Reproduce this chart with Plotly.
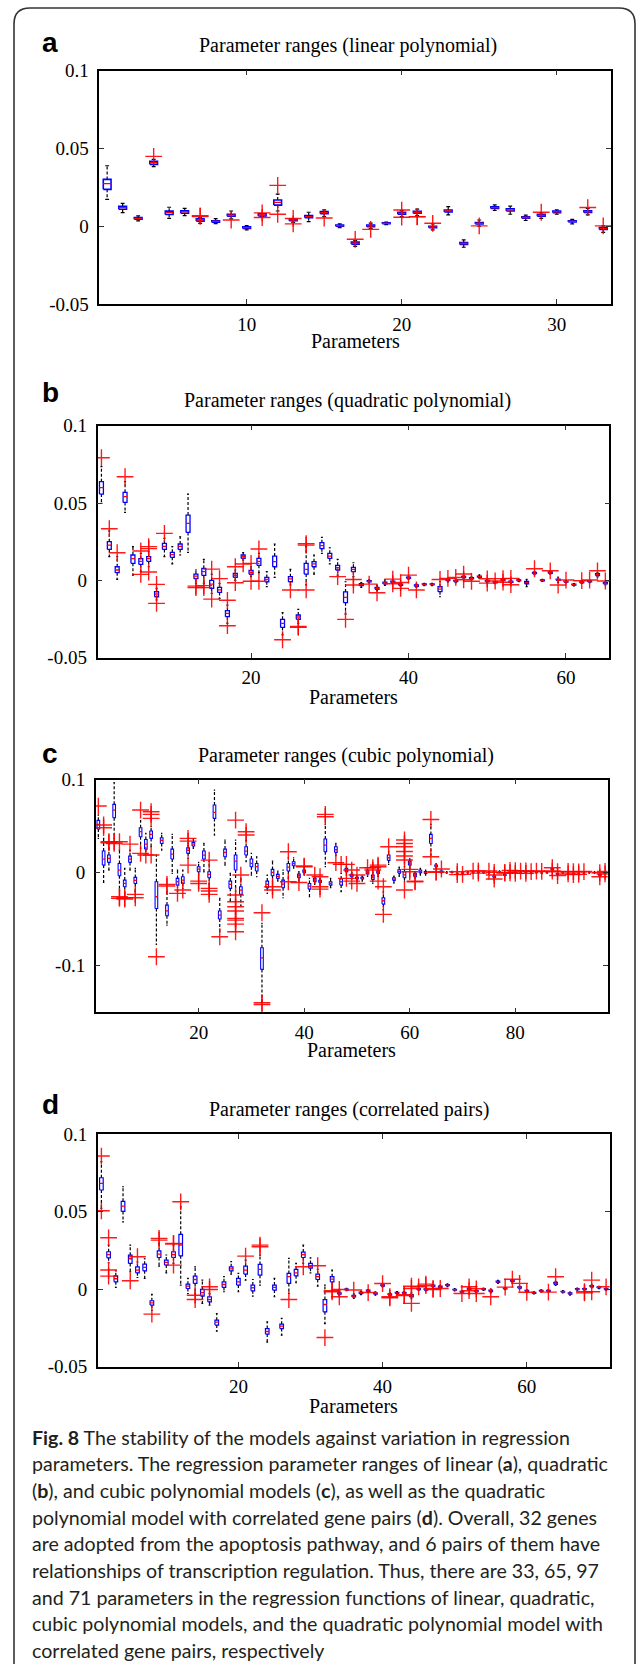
import plotly.graph_objects as go

W, H = 636, 1664

# ---------------- data: panel a (linear, 33 parameters) ----------------
a_med = [0.0274, 0.0119, 0.0051, 0.0409, 0.0088, 0.0092, 0.0040, 0.0031, 0.0071, -0.0009,
         0.0073, 0.0154, 0.0041, 0.0062, 0.0088, 0.0004, -0.0109, 0.0002, 0.0019, 0.0083,
         0.0090, -0.0005, 0.0098, -0.0111, 0.0019, 0.0120, 0.0105, 0.0056, 0.0070, 0.0092,
         0.0031, 0.0094, -0.0015]
a_q1 = [0.0237, 0.0109, 0.0045, 0.0398, 0.0075, 0.0083, 0.0033, 0.0026, 0.0064, -0.0014,
        0.0066, 0.0136, 0.0036, 0.0055, 0.0080, 0.0000, -0.0115, -0.0003, 0.0016, 0.0077,
        0.0083, -0.0010, 0.0092, -0.0117, 0.0014, 0.0114, 0.0098, 0.0051, 0.0064, 0.0087,
        0.0027, 0.0088, -0.0021]
a_q3 = [0.0301, 0.0128, 0.0056, 0.0418, 0.0097, 0.0099, 0.0047, 0.0035, 0.0077, -0.0004,
        0.0080, 0.0169, 0.0045, 0.0068, 0.0094, 0.0008, -0.0102, 0.0007, 0.0022, 0.0089,
        0.0096, 0.0000, 0.0104, -0.0105, 0.0024, 0.0125, 0.0112, 0.0061, 0.0077, 0.0097,
        0.0035, 0.0100, -0.0009]
a_lo = [0.0173, 0.0087, 0.0035, 0.0383, 0.0051, 0.0068, 0.0018, 0.0017, 0.0047, -0.0024,
        0.0062, 0.0098, 0.0025, 0.0030, 0.0062, -0.0009, -0.0130, -0.0015, 0.0010, 0.0062,
        0.0068, -0.0024, 0.0073, -0.0135, 0.0000, 0.0101, 0.0077, 0.0037, 0.0051, 0.0077,
        0.0015, 0.0073, -0.0039]
a_hi = [0.0389, 0.0147, 0.0066, 0.0430, 0.0122, 0.0115, 0.0055, 0.0049, 0.0098, 0.0004,
        0.0081, 0.0207, 0.0048, 0.0090, 0.0105, 0.0015, -0.0092, 0.0020, 0.0027, 0.0100,
        0.0110, 0.0015, 0.0126, -0.0088, 0.0040, 0.0137, 0.0129, 0.0071, 0.0088, 0.0105,
        0.0044, 0.0115, 0.0002]
a_out = {4: [0.0449], 7: [0.0063, 0.0067], 9: [0.0040], 11: [0.0086, 0.0056], 12: [0.0263, 0.0077],
         13: [0.0050, 0.0015], 15: [0.0053], 17: [-0.0084], 18: [-0.0020], 20: [0.0104, 0.0058],
         21: [0.0062, 0.0060], 22: [0.0019], 25: [0.0002], 29: [0.0090], 32: [0.0120], 33: [0.0002]}

# ---------------- data: panel b (quadratic, 65 parameters) ----------------
b_med = [0.0599, 0.0228, 0.0067, 0.0541, 0.0140, 0.0123, 0.0140, -0.0088, 0.0220, 0.0166,
         0.0220, 0.0369, 0.0028, 0.0056, -0.0024, -0.0062, -0.0213, 0.0032, 0.0153, 0.0052,
         0.0123, 0.0006, 0.0121, -0.0278, 0.0009, -0.0237, 0.0071, 0.0106, 0.0224, 0.0157,
         0.0082, -0.0110, 0.0071, -0.0028, -0.0006, -0.0052, -0.0017, -0.0009, -0.0028, 0.0017,
         -0.0034, -0.0026, -0.0026, -0.0056, 0.0002, -0.0004, 0.0022, 0.0013, 0.0024, -0.0004,
         -0.0013, 0.0002, -0.0009, 0.0000, -0.0015, 0.0047, 0.0000, 0.0050, 0.0004, -0.0009,
         -0.0028, -0.0013, -0.0006, 0.0037, -0.0019]
b_q1 = [0.0558, 0.0200, 0.0050, 0.0504, 0.0110, 0.0103, 0.0123, -0.0106, 0.0200, 0.0149,
        0.0200, 0.0310, 0.0011, 0.0032, -0.0052, -0.0078, -0.0235, 0.0019, 0.0142, 0.0039,
        0.0097, -0.0009, 0.0088, -0.0304, -0.0009, -0.0252, 0.0041, 0.0088, 0.0205, 0.0142,
        0.0067, -0.0144, 0.0056, -0.0034, -0.0010, -0.0058, -0.0023, -0.0013, -0.0032, 0.0013,
        -0.0038, -0.0029, -0.0029, -0.0073, -0.0002, -0.0008, 0.0018, 0.0009, 0.0020, -0.0008,
        -0.0016, -0.0002, -0.0013, -0.0003, -0.0022, 0.0043, -0.0003, 0.0046, 0.0000, -0.0012,
        -0.0031, -0.0016, -0.0009, 0.0031, -0.0023]
b_q3 = [0.0638, 0.0250, 0.0088, 0.0569, 0.0164, 0.0140, 0.0153, -0.0073, 0.0239, 0.0181,
        0.0235, 0.0422, 0.0041, 0.0078, 0.0000, -0.0045, -0.0196, 0.0045, 0.0164, 0.0065,
        0.0142, 0.0019, 0.0157, -0.0252, 0.0024, -0.0224, 0.0110, 0.0121, 0.0244, 0.0175,
        0.0097, -0.0075, 0.0084, -0.0022, -0.0002, -0.0046, -0.0011, -0.0005, -0.0024, 0.0021,
        -0.0030, -0.0023, -0.0023, -0.0041, 0.0006, 0.0000, 0.0026, 0.0017, 0.0028, 0.0000,
        -0.0010, 0.0006, -0.0005, 0.0003, -0.0006, 0.0051, 0.0003, 0.0054, 0.0008, -0.0006,
        -0.0025, -0.0010, -0.0003, 0.0043, -0.0015]
b_lo = [0.0498, 0.0153, 0.0006, 0.0440, 0.0034, 0.0056, 0.0088, -0.0127, 0.0153, 0.0106,
        0.0164, 0.0181, -0.0019, -0.0019, -0.0084, -0.0116, -0.0278, 0.0000, 0.0131, 0.0024,
        0.0050, -0.0041, 0.0019, -0.0353, -0.0030, -0.0278, -0.0030, 0.0041, 0.0175, 0.0106,
        0.0034, -0.0218, 0.0024, -0.0045, -0.0016, -0.0068, -0.0032, -0.0019, -0.0038, 0.0007,
        -0.0045, -0.0034, -0.0034, -0.0106, -0.0010, -0.0014, 0.0010, 0.0003, 0.0014, -0.0014,
        -0.0022, -0.0008, -0.0019, -0.0008, -0.0040, 0.0037, -0.0007, 0.0040, -0.0014, -0.0016,
        -0.0035, -0.0020, -0.0014, 0.0022, -0.0030]
b_hi = [0.0735, 0.0320, 0.0153, 0.0638, 0.0218, 0.0175, 0.0185, -0.0052, 0.0272, 0.0218,
        0.0282, 0.0558, 0.0067, 0.0136, 0.0041, -0.0019, -0.0160, 0.0067, 0.0179, 0.0088,
        0.0175, 0.0056, 0.0235, -0.0209, 0.0071, -0.0187, 0.0220, 0.0164, 0.0278, 0.0211,
        0.0136, -0.0009, 0.0114, -0.0015, 0.0004, -0.0032, 0.0004, 0.0002, -0.0018, 0.0027,
        -0.0024, -0.0019, -0.0019, -0.0009, 0.0010, 0.0008, 0.0032, 0.0023, 0.0036, 0.0006,
        -0.0006, 0.0008, 0.0001, 0.0008, 0.0006, 0.0057, 0.0006, 0.0058, 0.0020, -0.0002,
        -0.0021, -0.0006, 0.0000, 0.0050, -0.0010]
b_out = {1: [0.0793], 2: [0.0334], 3: [0.0179], 4: [0.0670], 6: [0.0190, 0.0039],
         7: [0.0218, 0.0205, 0.0054], 8: [-0.0026, -0.0149], 9: [0.0304], 13: [-0.0037, -0.0047],
         14: [-0.0034, -0.0047], 15: [0.0073, -0.0121], 16: [0.0011], 17: [-0.0129, -0.0293],
         18: [0.0088, -0.0015], 19: [0.0106], 20: [0.0110, -0.0006], 21: [0.0203, -0.0006],
         24: [-0.0384], 25: [-0.0062], 26: [-0.0304, -0.0298], 27: [0.0237, 0.0228, -0.0062],
         31: [0.0024], 32: [-0.0252], 33: [0.0006, -0.0030], 35: [-0.0024], 36: [-0.0080],
         38: [0.0008, -0.0022], 39: [-0.0014, -0.0052], 40: [0.0034], 41: [-0.0062], 44: [0.0006],
         45: [0.0013], 46: [0.0019], 47: [0.0041, 0.0004], 48: [-0.0006], 50: [0.0010, -0.0018],
         51: [-0.0004], 52: [0.0011, -0.0012], 53: [0.0013, -0.0028], 56: [0.0075], 58: [0.0062],
         59: [-0.0030], 60: [0.0002], 62: [-0.0002], 63: [0.0002], 64: [0.0062], 65: [-0.0004]}

# ---------------- data: panel c (cubic, 97 parameters) ----------------
c_med = [0.0520, 0.0147, 0.0154, 0.0674, 0.0029, -0.0115, 0.0147, -0.0082, 0.0441, 0.0308,
         0.0412, -0.0258, 0.0348, -0.0409, 0.0201, -0.0097, -0.0079, 0.0240, 0.0308, 0.0039,
         0.0190, -0.0018, 0.0649, -0.0455, 0.0219, -0.0125, 0.0125, -0.0186, 0.0233, 0.0100,
         0.0065, -0.0914, -0.0125, 0.0004, -0.0039, -0.0122, 0.0061, 0.0097, -0.0032, 0.0014,
         -0.0143, -0.0079, -0.0093, 0.0297, -0.0115, 0.0247, -0.0097, 0.0029, -0.0029, -0.0057,
         -0.0057, 0.0004, -0.0047, 0.0007, -0.0301, 0.0161, -0.0068, 0.0014, -0.0022, 0.0104,
         -0.0025, 0.0014, 0.0004, 0.0369, 0.0075, 0.0011, 0.0004, 0.0007, -0.0007, 0.0000,
         0.0004, 0.0004, 0.0007, 0.0004, 0.0004, -0.0043, 0.0011, -0.0025, 0.0011, 0.0007,
         0.0004, 0.0007, 0.0000, 0.0004, 0.0000, 0.0004, 0.0036, -0.0014, 0.0004, 0.0000,
         -0.0007, -0.0004, 0.0000, 0.0004, 0.0004, -0.0025, 0.0000]
c_q1 = [0.0470, 0.0082, 0.0111, 0.0591, -0.0032, -0.0150, 0.0111, -0.0115, 0.0387, 0.0254,
        0.0369, -0.0384, 0.0315, -0.0462, 0.0147, -0.0133, -0.0115, 0.0208, 0.0287, 0.0010,
        0.0147, -0.0054, 0.0584, -0.0498, 0.0172, -0.0168, 0.0029, -0.0233, 0.0190, 0.0065,
        0.0018, -0.1039, -0.0161, -0.0032, -0.0061, -0.0161, 0.0018, 0.0075, -0.0054, 0.0000,
        -0.0176, -0.0097, -0.0104, 0.0226, -0.0133, 0.0219, -0.0133, 0.0011, -0.0043, -0.0068,
        -0.0068, -0.0014, -0.0072, -0.0007, -0.0337, 0.0133, -0.0082, -0.0004, -0.0054, 0.0082,
        -0.0043, 0.0000, -0.0007, 0.0315, 0.0065, 0.0004, 0.0000, 0.0003, -0.0011, -0.0004,
        0.0000, 0.0000, 0.0003, 0.0000, 0.0000, -0.0050, 0.0007, -0.0030, 0.0007, 0.0003,
        0.0000, 0.0003, -0.0004, 0.0000, -0.0004, 0.0000, 0.0030, -0.0019, 0.0000, -0.0004,
        -0.0011, -0.0008, -0.0004, 0.0000, 0.0000, -0.0030, -0.0004]
c_q3 = [0.0563, 0.0233, 0.0190, 0.0735, 0.0100, -0.0079, 0.0179, -0.0050, 0.0484, 0.0358,
        0.0448, -0.0097, 0.0376, -0.0348, 0.0254, -0.0061, -0.0043, 0.0269, 0.0326, 0.0065,
        0.0233, 0.0010, 0.0728, -0.0412, 0.0254, -0.0090, 0.0190, -0.0150, 0.0280, 0.0147,
        0.0100, -0.0806, -0.0090, 0.0036, -0.0018, -0.0079, 0.0100, 0.0118, -0.0014, 0.0029,
        -0.0115, -0.0061, -0.0082, 0.0362, -0.0097, 0.0280, -0.0068, 0.0047, -0.0018, -0.0050,
        -0.0050, 0.0022, -0.0025, 0.0022, -0.0269, 0.0190, -0.0054, 0.0032, 0.0011, 0.0125,
        -0.0007, 0.0029, 0.0014, 0.0412, 0.0082, 0.0018, 0.0008, 0.0011, -0.0003, 0.0004,
        0.0008, 0.0008, 0.0011, 0.0008, 0.0008, -0.0036, 0.0015, -0.0020, 0.0015, 0.0011,
        0.0008, 0.0011, 0.0004, 0.0008, 0.0004, 0.0008, 0.0042, -0.0009, 0.0008, 0.0004,
        -0.0003, 0.0000, 0.0004, 0.0008, 0.0008, -0.0020, 0.0004]
c_lo = [0.0369, -0.0104, 0.0029, 0.0369, -0.0186, -0.0240, 0.0029, -0.0204, 0.0260, 0.0205,
        0.0280, -0.0771, 0.0244, -0.0563, -0.0007, -0.0204, -0.0168, 0.0154, 0.0262, -0.0018,
        0.0010, -0.0125, 0.0405, -0.0634, 0.0082, -0.0305, -0.0204, -0.0350, 0.0118, -0.0025,
        -0.0043, -0.1387, -0.0222, -0.0090, -0.0090, -0.0269, -0.0061, 0.0050, -0.0090, -0.0025,
        -0.0258, -0.0125, -0.0125, 0.0065, -0.0161, 0.0183, -0.0204, -0.0025, -0.0068, -0.0090,
        -0.0090, -0.0040, -0.0115, -0.0040, -0.0401, 0.0090, -0.0111, -0.0040, -0.0097, 0.0047,
        -0.0061, -0.0025, -0.0025, 0.0190, 0.0050, -0.0004, -0.0005, -0.0002, -0.0016, -0.0009,
        -0.0005, -0.0005, -0.0002, -0.0005, -0.0005, -0.0057, 0.0002, -0.0036, 0.0002, -0.0002,
        -0.0005, -0.0002, -0.0009, -0.0005, -0.0009, -0.0005, 0.0024, -0.0024, -0.0005, -0.0009,
        -0.0016, -0.0013, -0.0009, -0.0005, -0.0005, -0.0036, -0.0009]
c_hi = [0.0620, 0.0369, 0.0315, 0.0970, 0.0244, 0.0047, 0.0244, 0.0047, 0.0560, 0.0423,
        0.0495, 0.0190, 0.0423, -0.0200, 0.0412, 0.0029, 0.0029, 0.0315, 0.0362, 0.0111,
        0.0315, 0.0125, 0.0889, -0.0276, 0.0351, -0.0007, 0.0351, -0.0061, 0.0351, 0.0208,
        0.0172, -0.0545, -0.0025, 0.0125, 0.0018, 0.0029, 0.0161, 0.0161, 0.0011, 0.0054,
        -0.0061, -0.0040, -0.0061, 0.0520, -0.0061, 0.0315, -0.0007, 0.0072, 0.0004, -0.0036,
        -0.0036, 0.0040, 0.0004, 0.0050, -0.0204, 0.0230, -0.0036, 0.0061, 0.0065, 0.0150,
        0.0011, 0.0047, 0.0029, 0.0520, 0.0097, 0.0029, 0.0013, 0.0016, 0.0002, 0.0009,
        0.0013, 0.0013, 0.0016, 0.0013, 0.0013, -0.0029, 0.0020, -0.0014, 0.0020, 0.0016,
        0.0013, 0.0016, 0.0009, 0.0013, 0.0009, 0.0013, 0.0048, -0.0004, 0.0013, 0.0009,
        0.0002, 0.0005, 0.0009, 0.0013, 0.0013, -0.0014, 0.0009]
c_out = {1: [0.0717], 2: [0.0513, 0.0484], 3: [0.0333, 0.0322], 4: [0.0333, 0.0315],
         5: [0.0333, -0.0258, -0.0276], 6: [-0.0269, -0.0283], 7: [0.0308], 8: [-0.0233, -0.0269],
         9: [0.0674, 0.0208], 10: [0.0190], 11: [0.0656, 0.0627, 0.0584, 0.0190], 12: [-0.0903],
         14: [-0.0125, -0.0143], 16: [-0.0222], 17: [-0.0186], 18: [0.0369, 0.0340, 0.0082],
         20: [-0.0090, -0.0115], 22: [0.0136, -0.0168, -0.0197, -0.0233], 24: [-0.0688],
         27: [0.0566, -0.0240, -0.0312, -0.0366, -0.0412, -0.0491, -0.0509, -0.0552, -0.0634],
         28: [-0.0025], 29: [0.0441, 0.0405], 32: [-0.0430, -0.1398, -0.1416], 34: [-0.0150, -0.0186],
         37: [0.0226, -0.0097], 39: [-0.0105], 40: [0.0072, 0.0065], 42: [-0.0025],
         43: [-0.0043, -0.0150, -0.0176], 44: [0.0627, 0.0602], 46: [0.0108], 47: [0.0090],
         48: [0.0090, -0.0061], 49: [0.0029, -0.0090], 50: [-0.0025, -0.0115], 52: [0.0054],
         53: [0.0054, 0.0029], 54: [0.0082, 0.0065, -0.0090], 55: [-0.0150, -0.0448], 56: [0.0280],
         59: [0.0352, 0.0315, 0.0280, 0.0229, 0.0180, 0.0137, -0.0186], 60: [0.0036, 0.0011],
         61: [-0.0090, -0.0097], 64: [0.0573, 0.0172], 65: [0.0011, 0.0004], 66: [0.0040],
         69: [-0.0020, 0.0011], 70: [-0.0018], 72: [0.0018], 73: [0.0020, -0.0004], 75: [0.0018],
         76: [-0.0025, -0.0068, 0.0004], 78: [0.0004, -0.0004], 79: [0.0025, 0.0000],
         80: [0.0022, -0.0007], 81: [0.0018], 82: [0.0020, -0.0007], 83: [0.0013], 84: [0.0018],
         85: [0.0014], 87: [0.0054, 0.0018], 88: [-0.0030, 0.0011], 90: [-0.0013, 0.0014],
         91: [-0.0020, 0.0011], 92: [-0.0018, 0.0009], 93: [0.0013], 96: [-0.0043, 0.0000],
         97: [0.0014, -0.0013]}

# ---------------- data: panel d (correlated pairs, 71 parameters) ----------------
d_med = [0.0682, 0.0222, 0.0067, 0.0535, 0.0196, 0.0123, 0.0140, -0.0088, 0.0226, 0.0172,
         0.0222, 0.0284, 0.0019, 0.0062, -0.0022, -0.0067, -0.0213, 0.0030, 0.0131, 0.0047,
         0.0123, 0.0009, 0.0127, -0.0273, 0.0011, -0.0239, 0.0080, 0.0105, 0.0222, 0.0151,
         0.0080, -0.0099, 0.0065, -0.0028, -0.0002, -0.0045, -0.0024, -0.0011, -0.0028, 0.0024,
         -0.0034, -0.0024, -0.0024, -0.0043, 0.0000, -0.0002, 0.0022, 0.0015, 0.0026, -0.0004,
         -0.0017, 0.0002, -0.0013, 0.0000, -0.0011, 0.0047, 0.0004, 0.0054, 0.0011, -0.0011,
         -0.0024, -0.0011, -0.0011, 0.0037, -0.0017, -0.0028, 0.0000, 0.0000, 0.0019, 0.0011,
         0.0000]
d_q1 = [0.0639, 0.0202, 0.0047, 0.0501, 0.0166, 0.0105, 0.0118, -0.0103, 0.0204, 0.0155,
        0.0204, 0.0215, 0.0004, 0.0037, -0.0045, -0.0082, -0.0232, 0.0011, 0.0118, 0.0026,
        0.0097, -0.0011, 0.0090, -0.0290, -0.0006, -0.0254, 0.0037, 0.0086, 0.0204, 0.0135,
        0.0062, -0.0146, 0.0047, -0.0032, -0.0005, -0.0050, -0.0029, -0.0015, -0.0032, 0.0020,
        -0.0038, -0.0027, -0.0027, -0.0050, -0.0003, -0.0006, 0.0018, 0.0011, 0.0022, -0.0007,
        -0.0020, -0.0002, -0.0017, -0.0003, -0.0016, 0.0043, 0.0001, 0.0050, 0.0007, -0.0014,
        -0.0027, -0.0014, -0.0014, 0.0031, -0.0020, -0.0032, -0.0003, -0.0003, 0.0015, 0.0008,
        -0.0003]
d_q3 = [0.0718, 0.0241, 0.0086, 0.0566, 0.0219, 0.0144, 0.0161, -0.0075, 0.0247, 0.0187,
        0.0241, 0.0353, 0.0032, 0.0084, -0.0002, -0.0049, -0.0200, 0.0047, 0.0144, 0.0069,
        0.0148, 0.0026, 0.0159, -0.0254, 0.0026, -0.0226, 0.0101, 0.0127, 0.0239, 0.0166,
        0.0097, -0.0067, 0.0080, -0.0024, 0.0001, -0.0040, -0.0019, -0.0007, -0.0024, 0.0028,
        -0.0030, -0.0021, -0.0021, -0.0036, 0.0003, 0.0002, 0.0026, 0.0019, 0.0030, -0.0001,
        -0.0014, 0.0006, -0.0009, 0.0003, -0.0006, 0.0051, 0.0007, 0.0058, 0.0015, -0.0008,
        -0.0021, -0.0008, -0.0008, 0.0043, -0.0014, -0.0024, 0.0003, 0.0003, 0.0023, 0.0014,
        0.0003]
d_lo = [0.0520, 0.0170, 0.0011, 0.0434, 0.0112, 0.0075, 0.0069, -0.0136, 0.0148, 0.0105,
        0.0166, 0.0026, -0.0028, -0.0028, -0.0092, -0.0103, -0.0271, -0.0017, 0.0097, -0.0017,
        0.0058, -0.0045, 0.0026, -0.0342, -0.0049, -0.0297, -0.0028, 0.0041, 0.0166, 0.0105,
        0.0019, -0.0222, 0.0015, -0.0040, -0.0009, -0.0060, -0.0036, -0.0021, -0.0039, 0.0014,
        -0.0045, -0.0032, -0.0032, -0.0062, -0.0008, -0.0011, 0.0012, 0.0006, 0.0016, -0.0012,
        -0.0025, -0.0007, -0.0023, -0.0008, -0.0024, 0.0037, -0.0003, 0.0044, 0.0002, -0.0019,
        -0.0031, -0.0018, -0.0018, 0.0024, -0.0025, -0.0038, -0.0007, -0.0007, 0.0009, 0.0003,
        -0.0007]
d_hi = [0.0822, 0.0284, 0.0118, 0.0660, 0.0284, 0.0175, 0.0196, -0.0034, 0.0295, 0.0220,
        0.0284, 0.0531, 0.0069, 0.0144, 0.0058, -0.0028, -0.0157, 0.0080, 0.0177, 0.0101,
        0.0187, 0.0062, 0.0219, -0.0211, 0.0069, -0.0189, 0.0198, 0.0166, 0.0284, 0.0202,
        0.0127, 0.0026, 0.0123, -0.0016, 0.0005, -0.0030, -0.0012, -0.0003, -0.0018, 0.0032,
        -0.0024, -0.0016, -0.0016, -0.0024, 0.0007, 0.0006, 0.0030, 0.0024, 0.0034, 0.0003,
        -0.0009, 0.0010, -0.0005, 0.0006, 0.0001, 0.0057, 0.0010, 0.0060, 0.0020, -0.0004,
        -0.0017, -0.0004, -0.0004, 0.0050, -0.0010, -0.0019, 0.0006, 0.0006, 0.0028, 0.0018,
        0.0006]
d_out = {1: [0.0858, 0.0505], 2: [0.0331, 0.0123, 0.0084], 5: [0.0054], 6: [0.0209], 8: [-0.0161],
         9: [0.0327, 0.0316], 11: [0.0295, 0.0290, 0.0155], 12: [0.0563], 14: [-0.0039, -0.0067],
         16: [0.0015, -0.0002], 21: [0.0213], 23: [0.0284, 0.0273], 27: [-0.0067], 29: [0.0144],
         31: [0.0151], 32: [-0.0312], 33: [-0.0017, -0.0010], 34: [-0.0002, -0.0049], 36: [-0.0006],
         38: [-0.0022], 40: [0.0036], 41: [-0.0056, -0.0049], 43: [-0.0036, -0.0041],
         44: [0.0019, 0.0004, -0.0092], 45: [0.0015], 46: [0.0032, 0.0022], 47: [0.0004, -0.0002],
         48: [0.0004], 51: [-0.0028], 52: [0.0015, -0.0010], 53: [-0.0028, 0.0002], 55: [-0.0049],
         57: [0.0013], 58: [0.0064], 59: [0.0037], 60: [-0.0020], 63: [-0.0019], 64: [0.0080],
         68: [-0.0017, -0.0024], 69: [0.0058, -0.0017], 71: [0.0015]}

# ---------------- text / ticks ----------------
titles = ["Parameter ranges (linear polynomial)", "Parameter ranges (quadratic polynomial)",
          "Parameter ranges (cubic polynomial)", "Parameter ranges (correlated pairs)"]
panel_letters = ["a", "b", "c", "d"]
x_label = "Parameters"
x_ticks = [[10, 20, 30], [20, 40, 60], [20, 40, 60, 80], [20, 40, 60]]
y_ticks_ab = [-0.05, 0, 0.05, 0.1]
y_ticktext_ab = ["-0.05", "0", "0.05", "0.1"]
y_ticks_c = [-0.1, 0, 0.1]
y_ticktext_c = ["-0.1", "0", "0.1"]
y_ranges = [[-0.05, 0.1], [-0.05, 0.1], [-0.15, 0.1], [-0.05, 0.1]]

caption_lines = [
    "<b>Fig. 8</b> The stability of the models against variation in regression",
    "parameters. The regression parameter ranges of linear (<b>a</b>), quadratic",
    "(<b>b</b>), and cubic polynomial models (<b>c</b>), as well as the quadratic",
    "polynomial model with correlated gene pairs (<b>d</b>). Overall, 32 genes",
    "are adopted from the apoptosis pathway, and 6 pairs of them have",
    "relationships of transcription regulation. Thus, there are 33, 65, 97",
    "and 71 parameters in the regression functions of linear, quadratic,",
    "cubic polynomial models, and the quadratic polynomial model with",
    "correlated gene pairs, respectively",
]

# ---------------- layout geometry (pixels) ----------------
boxes_px = [(99.4, 611.0, 70.7, 304.0), (97.5, 609.3, 425.7, 657.7),
            (95.7, 607.7, 779.7, 1012.3), (97.8, 609.7, 1134.0, 1366.7)]
title_y = [46, 401, 755, 1109]
letter_y = [43, 393, 753, 1104]
xlabel_y = [341, 697, 1050, 1406]
title_x = [348, 347, 346, 349]


def X(px):
    return px / W


def Y(py):
    return 1 - py / H


SERIF = "Liberation Serif, Times New Roman, serif"

fig = go.Figure()
panels = [(a_med, a_q1, a_q3, a_lo, a_hi, a_out),
          (b_med, b_q1, b_q3, b_lo, b_hi, b_out),
          (c_med, c_q1, c_q3, c_lo, c_hi, c_out),
          (d_med, d_q1, d_q3, d_lo, d_hi, d_out)]

BOX_W = 0.5
CAP_W = 0.25
box_lw = [1.6, 1.3, 1.1, 1.2]

for p, (med, q1, q3, lo, hi, out) in enumerate(panels):
    xa = "x" if p == 0 else f"x{p + 1}"
    ya = "y" if p == 0 else f"y{p + 1}"
    wx, wy, cx, cy, bx, by, mx, my = [], [], [], [], [], [], [], []
    for k in range(len(med)):
        i = k + 1
        l, r = i - BOX_W / 2, i + BOX_W / 2
        cl, cr = i - CAP_W / 2, i + CAP_W / 2
        wx += [i, i, None, i, i, None]
        wy += [q3[k], hi[k], None, q1[k], lo[k], None]
        cx += [cl, cr, None, cl, cr, None]
        cy += [hi[k], hi[k], None, lo[k], lo[k], None]
        bx += [l, r, r, l, l, None]
        by += [q1[k], q1[k], q3[k], q3[k], q1[k], None]
        mx += [l, r, None]
        my += [med[k], med[k], None]
    ox, oy = [], []
    for i, vals in out.items():
        for v in vals:
            ox.append(i)
            oy.append(v)
    fig.add_trace(go.Scatter(x=wx, y=wy, mode="lines", xaxis=xa, yaxis=ya,
                             line=dict(color="black", width=1.2, dash="3px,2px"), hoverinfo="skip"))
    fig.add_trace(go.Scatter(x=cx, y=cy, mode="lines", xaxis=xa, yaxis=ya,
                             line=dict(color="black", width=1.2), hoverinfo="skip"))
    fig.add_trace(go.Scatter(x=bx, y=by, mode="lines", xaxis=xa, yaxis=ya,
                             line=dict(color="#0000ff", width=box_lw[p]), hoverinfo="skip"))
    fig.add_trace(go.Scatter(x=mx, y=my, mode="lines", xaxis=xa, yaxis=ya,
                             line=dict(color="#ff0000", width=1.3), hoverinfo="skip"))
    fig.add_trace(go.Scatter(x=ox, y=oy, mode="markers", xaxis=xa, yaxis=ya,
                             marker=dict(symbol="cross-thin", size=12,
                                         line=dict(color="rgba(255,0,0,0.9)", width=1.4)),
                             hoverinfo="skip"))

layout = dict(width=W, height=H, margin=dict(l=0, r=0, t=0, b=0, pad=0, autoexpand=False),
              paper_bgcolor="white", plot_bgcolor="white", showlegend=False)

for p in range(4):
    x0, x1, y0, y1 = boxes_px[p]
    n = len(panels[p][0])
    xkey = "xaxis" if p == 0 else f"xaxis{p + 1}"
    ykey = "yaxis" if p == 0 else f"yaxis{p + 1}"
    yv = y_ticks_c if p == 2 else y_ticks_ab
    yt = y_ticktext_c if p == 2 else y_ticktext_ab
    layout[xkey] = dict(domain=[X(x0), X(x1)], range=[0.5, n + 0.5],
                        anchor="y" if p == 0 else f"y{p + 1}",
                        tickvals=x_ticks[p], ticktext=[str(t) for t in x_ticks[p]],
                        ticks="inside", ticklen=5, tickwidth=1, tickcolor="#333",
                        showline=True, linecolor="black", linewidth=1.5, mirror="ticks",
                        showgrid=False, zeroline=False, ticklabelstandoff=2, automargin=False,
                        tickfont=dict(family=SERIF, size=19, color="black"))
    layout[ykey] = dict(domain=[Y(y1), Y(y0)], range=y_ranges[p],
                        anchor="x" if p == 0 else f"x{p + 1}",
                        tickvals=yv, ticktext=yt,
                        ticks="inside", ticklen=5, tickwidth=1, tickcolor="#333",
                        showline=True, linecolor="black", linewidth=1.5, mirror="ticks",
                        showgrid=False, zeroline=False, ticklabelstandoff=5, automargin=False,
                        tickfont=dict(family=SERIF, size=19, color="black"))

annotations = []
for p in range(4):
    x0, x1, y0, y1 = boxes_px[p]
    annotations.append(dict(text=titles[p], x=X(title_x[p]), y=Y(title_y[p]), xref="paper", yref="paper",
                            xanchor="center", yanchor="middle", showarrow=False,
                            font=dict(family=SERIF, size=20, color="black")))
    annotations.append(dict(text="<b>" + panel_letters[p] + "</b>", x=X(40), y=Y(letter_y[p]),
                            xref="paper", yref="paper", xanchor="left", yanchor="middle",
                            showarrow=False,
                            font=dict(family="Liberation Sans, Arial, sans-serif", size=28, color="black")))
    annotations.append(dict(text=x_label, x=X((x0 + x1) / 2), y=Y(xlabel_y[p]), xref="paper", yref="paper",
                            xanchor="center", yanchor="middle", showarrow=False,
                            font=dict(family=SERIF, size=20, color="black")))

for k, line in enumerate(caption_lines):
    annotations.append(dict(text=line, x=X(30), y=Y(1437 + 26.67 * k), xref="paper", yref="paper",
                            xanchor="left", yanchor="middle", showarrow=False,
                            font=dict(family="Lato, Open Sans, sans-serif", size=19.6, color="#231f20")))
layout["annotations"] = annotations

frame = (f"M {X(14)},{Y(H + 5)} L {X(14)},{Y(24)} Q {X(14)},{Y(8)} {X(30)},{Y(8)} "
         f"L {X(619)},{Y(8)} Q {X(635)},{Y(8)} {X(635)},{Y(24)} L {X(635)},{Y(H + 5)}")
layout["shapes"] = [dict(type="path", path=frame, xref="paper", yref="paper",
                         line=dict(color="#333333", width=1.6))]

fig.update_layout(**layout)
fig.write_html("out.html")
